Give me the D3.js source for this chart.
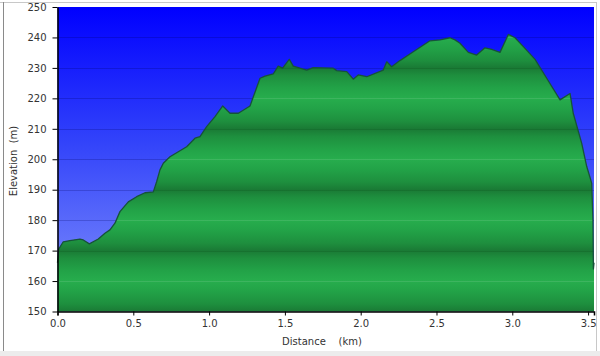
<!DOCTYPE html>
<html><head><meta charset="utf-8">
<script src="https://cdn.jsdelivr.net/npm/d3@7"></script>
<style>
html,body{margin:0;padding:0;background:#fff;}
svg{display:block;font-family:"DejaVu Sans",Verdana,sans-serif;}
</style></head>
<body>
<svg id="c" width="600" height="356"></svg>
<script>
const distance = [0.000,0.008,0.038,0.082,0.148,0.170,0.210,0.269,0.313,0.346,0.379,0.412,0.467,0.522,0.577,0.632,0.654,0.676,0.698,0.742,0.852,0.907,0.940,0.984,1.039,1.090,1.138,1.193,1.270,1.336,1.369,1.423,1.456,1.485,1.529,1.555,1.600,1.644,1.687,1.819,1.842,1.908,1.951,1.984,2.040,2.149,2.172,2.204,2.259,2.347,2.457,2.523,2.589,2.622,2.655,2.710,2.765,2.820,2.864,2.919,2.974,3.018,3.073,3.150,3.227,3.315,3.381,3.402,3.458,3.491,3.513,3.524,3.532,3.535,3.539];
const elevation = [166,170.5,172.9,173.3,173.8,173.5,172.2,173.8,175.7,176.8,179,182.8,186,187.7,189,189.3,192.6,196.5,198.7,200.8,204.1,206.9,207.4,210.7,214,217.5,215.1,215.1,217.5,226.6,227.3,228,230.6,229.9,232.8,230.6,229.9,229.3,230.1,229.9,229.1,228.8,226.3,227.7,227.1,229.3,232,230.4,232.4,235.3,238.9,239.2,239.9,239.2,238.1,235.1,234.2,236.6,236.1,235.1,241,239.9,237,232.8,226.6,219.5,221.6,215.1,205.2,197.6,194,192.1,180,164,166];
const xTicks = [0,0.5,1.0,1.5,2.0,2.5,3.0,3.5];
const yTicks = [150,160,170,180,190,200,210,220,230,240,250];
const xTitle = "Distance\u00a0\u00a0\u00a0\u00a0(km)";
const yTitle = "Elevation\u00a0\u00a0(m)";

const data = distance.map((d,i)=>({d, e: elevation[i]}));
const svg = d3.select("#c");
const L=57.5, R=594, T=7, B=311.5;
const x = d3.scaleLinear().domain([0, 3.539]).range([L,R]);
const y = d3.scaleLinear().domain([150,250]).range([B,T]);

// frame
svg.append("rect").attr("x",0).attr("y",0).attr("width",600).attr("height",356).attr("fill","#fff");
svg.append("rect").attr("x",0).attr("y",351).attr("width",600).attr("height",5).attr("fill","#ececec");
svg.append("line").attr("x1",0).attr("x2",597).attr("y1",2.5).attr("y2",2.5).attr("stroke","#c8c8c8");
svg.append("line").attr("x1",3.5).attr("x2",3.5).attr("y1",2).attr("y2",351).attr("stroke","#8a8a8a");
svg.append("line").attr("x1",596.5).attr("x2",596.5).attr("y1",2).attr("y2",351).attr("stroke","#c8c8c8");

const defs = svg.append("defs");
const bg = defs.append("linearGradient").attr("id","bg").attr("x1",0).attr("y1",0).attr("x2",0).attr("y2",1);
bg.append("stop").attr("offset","0%").attr("stop-color","#0000ff");
bg.append("stop").attr("offset","45%").attr("stop-color","#3344fa");
bg.append("stop").attr("offset","100%").attr("stop-color","#8595fb");

const gg = defs.append("linearGradient").attr("id","gg").attr("gradientUnits","userSpaceOnUse")
  .attr("x1",0).attr("x2",0).attr("y1",y(190)).attr("y2",y(180)).attr("spreadMethod","reflect");
gg.append("stop").attr("offset","0%").attr("stop-color","#1a7a35");
gg.append("stop").attr("offset","25%").attr("stop-color","#1e8f3e");
gg.append("stop").attr("offset","65%").attr("stop-color","#22a247");
gg.append("stop").attr("offset","100%").attr("stop-color","#27ad4d");

svg.append("rect").attr("x",L).attr("y",T).attr("width",R-L).attr("height",B-T).attr("fill","url(#bg)");

// grid lines in blue
svg.append("g").selectAll("line").data(yTicks.slice(1,-1)).join("line")
  .attr("x1",L).attr("x2",R).attr("y1",d=>Math.round(y(d))+0.5).attr("y2",d=>Math.round(y(d))+0.5)
  .attr("stroke","rgba(0,0,90,0.22)").attr("stroke-width",1);

const area = d3.area().x(d=>x(d.d)).y0(B).y1(d=>y(d.e)).curve(d3.curveLinear);
const line = d3.line().x(d=>x(d.d)).y(d=>y(d.e)).curve(d3.curveLinear);

defs.append("clipPath").attr("id","ac").append("path").attr("d",area(data));
svg.append("path").attr("d",area(data)).attr("fill","url(#gg)");
svg.append("g").attr("clip-path","url(#ac)").selectAll("line").data(yTicks.slice(1,-1)).join("line")
  .attr("x1",L).attr("x2",R).attr("y1",d=>Math.round(y(d))+0.5).attr("y2",d=>Math.round(y(d))+0.5)
  .attr("stroke",d=>(d%20===0)?"rgba(255,255,255,0.10)":"rgba(0,40,0,0.12)");
svg.append("path").attr("d",line(data)).attr("fill","none").attr("stroke","#17523a").attr("stroke-width",1.3).attr("stroke-linejoin","round");

// axes
const ya = svg.append("g").attr("transform",`translate(${L},0)`)
  .call(d3.axisLeft(y).tickValues(yTicks).tickFormat(d3.format("d")).tickSize(5).tickPadding(6).tickSizeOuter(0));
const xa = svg.append("g").attr("transform",`translate(0,${B})`)
  .call(d3.axisBottom(x).tickValues(xTicks).tickFormat(d3.format(".1f")).tickSize(4).tickPadding(4).tickSizeOuter(4));
[ya,xa].forEach(a=>{
  a.selectAll("text").attr("font-size",10).attr("fill","#333").attr("font-family","DejaVu Sans, Verdana, sans-serif");
  a.selectAll("line").attr("stroke","#000");
  a.select(".domain").attr("stroke","#000").attr("stroke-width",1.5);
});

svg.append("text").attr("x",322).attr("y",345).attr("text-anchor","middle")
  .attr("font-size",10).attr("fill","#333").text(xTitle);
svg.append("text").attr("transform","translate(17,161) rotate(-90)").attr("text-anchor","middle")
  .attr("font-size",10).attr("fill","#333").text(yTitle);
</script>
</body></html>
